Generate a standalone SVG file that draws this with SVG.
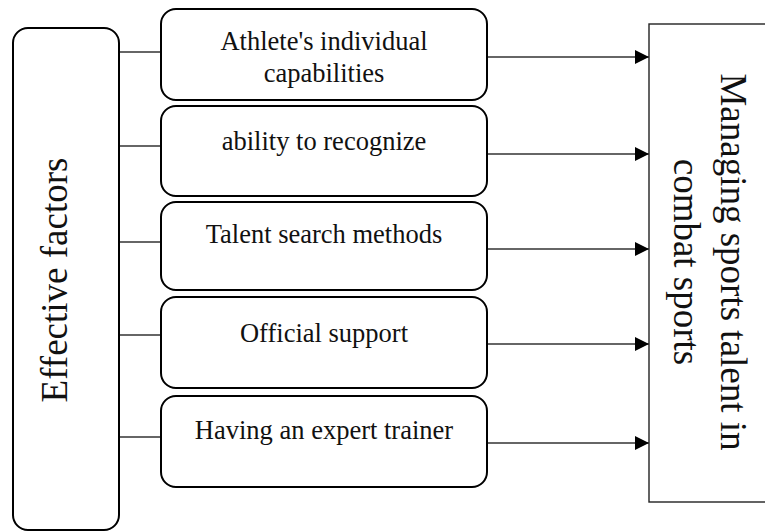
<svg xmlns="http://www.w3.org/2000/svg" width="765" height="532" viewBox="0 0 765 532">
<defs>
<style>
.box{fill:#fff;stroke:#000;stroke-width:2}
.rbox{fill:#fff;stroke:#222;stroke-width:1.4}
.t{font-family:"Liberation Serif","Times New Roman",serif;font-size:26.5px;fill:#111;text-anchor:middle}
.big{font-family:"Liberation Serif","Times New Roman",serif;font-size:37px;fill:#111;text-anchor:middle}
.ln{stroke:#333;stroke-width:1.4;fill:none}
.ar{stroke:#333;stroke-width:1.4;fill:none;marker-end:url(#arr)}
</style>
<marker id="arr" viewBox="0 0 14 14" refX="14" refY="7" markerWidth="14" markerHeight="14" markerUnits="userSpaceOnUse" orient="auto">
<path d="M0,0 L14,7 L0,14 Z" fill="#000"/>
</marker>
</defs>
<rect width="765" height="532" fill="#fff"/>
<g id="connectors">
<line class="ln" x1="119" y1="52" x2="161" y2="52"/>
<line class="ln" x1="119" y1="146" x2="161" y2="146"/>
<line class="ln" x1="119" y1="242" x2="161" y2="242"/>
<line class="ln" x1="119" y1="335" x2="161" y2="335"/>
<line class="ln" x1="119" y1="437" x2="161" y2="437"/>
<line class="ar" x1="487" y1="57" x2="649" y2="57"/>
<line class="ar" x1="487" y1="154" x2="649" y2="154"/>
<line class="ar" x1="487" y1="249" x2="649" y2="249"/>
<line class="ar" x1="487" y1="344" x2="649" y2="344"/>
<line class="ar" x1="487" y1="443" x2="649" y2="443"/>
</g>
<g id="effective-factors">
<rect class="box" x="13" y="28" width="106" height="502" rx="15"/>
<text class="big" transform="translate(67,280) rotate(-90)">Effective factors</text>
</g>
<g id="n1">
<rect class="box" x="161" y="9" width="326" height="91" rx="15"/>
<text class="t" x="324" y="50">Athlete's individual</text>
<text class="t" x="324" y="82">capabilities</text>
</g>
<g id="n2">
<rect class="box" x="161" y="106" width="326" height="90" rx="15"/>
<text class="t" x="324" y="150">ability to recognize</text>
</g>
<g id="n3">
<rect class="box" x="161" y="202" width="326" height="88" rx="15"/>
<text class="t" x="324" y="243">Talent search methods</text>
</g>
<g id="n4">
<rect class="box" x="161" y="297" width="326" height="91" rx="15"/>
<text class="t" x="324" y="342">Official support</text>
</g>
<g id="n5">
<rect class="box" x="161" y="396" width="326" height="91" rx="15"/>
<text class="t" x="324" y="439">Having an expert trainer</text>
</g>
<g id="managing">
<rect class="rbox" x="649" y="24" width="130" height="478"/>
<text class="big" transform="translate(721,262) rotate(90)"><tspan x="0" y="0">Managing sports talent in</tspan><tspan x="0" y="47">combat sports</tspan></text>
</g>
</svg>
